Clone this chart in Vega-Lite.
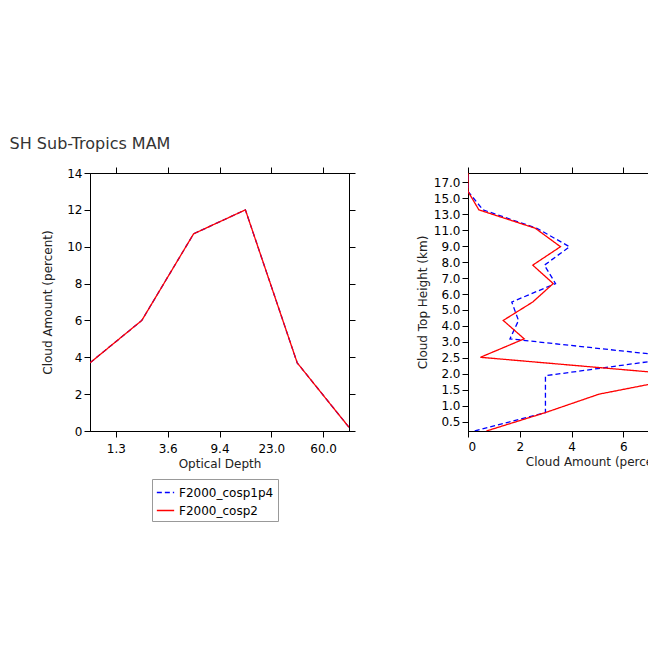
{
"$schema":"https://vega.github.io/schema/vega-lite/v6.json",
"padding":{"left":9,"top":136,"right":5,"bottom":5},
"background":"white",
"title":{"text":"SH Sub-Tropics MAM","font":"DejaVu Sans","fontSize":16,"fontWeight":"normal","color":"#333","anchor":"middle","offset":14,"frame":"group"},
"config":{"view":{"stroke":"black","strokeWidth":1},
 "axis":{"labelFont":"DejaVu Sans","titleFont":"DejaVu Sans","labelFontSize":12,"titleFontSize":12,"titleFontWeight":"normal","domainColor":"black","tickColor":"black","labelColor":"black","titleColor":"#222","grid":false,"tickSize":6},
 "legend":{"orient":"none","legendX":62,"legendY":306,"strokeColor":"#999","padding":4,"labelFont":"DejaVu Sans","labelFontSize":12,"symbolType":"stroke","symbolSize":300,"titleFontSize":0,"rowPadding":2}},
"spacing":59,
"datasets":{
"tau":[
{"c":"F2000_cosp1p4","x":0,"y":3.7},{"c":"F2000_cosp1p4","x":1,"y":6.0},{"c":"F2000_cosp1p4","x":2,"y":10.7},{"c":"F2000_cosp1p4","x":3,"y":12.0},{"c":"F2000_cosp1p4","x":4,"y":3.7},{"c":"F2000_cosp1p4","x":5,"y":0.2},
{"c":"F2000_cosp2","x":0,"y":3.7},{"c":"F2000_cosp2","x":1,"y":6.0},{"c":"F2000_cosp2","x":2,"y":10.7},{"c":"F2000_cosp2","x":3,"y":12.0},{"c":"F2000_cosp2","x":4,"y":3.7},{"c":"F2000_cosp2","x":5,"y":0.2}],
"hgt":[
{"c":"F2000_cosp1p4","i":0,"v":0.26},{"c":"F2000_cosp1p4","i":1,"v":2.99},{"c":"F2000_cosp1p4","i":2,"v":2.99},{"c":"F2000_cosp1p4","i":3,"v":2.99},{"c":"F2000_cosp1p4","i":4,"v":8.22},{"c":"F2000_cosp1p4","i":5,"v":1.62},{"c":"F2000_cosp1p4","i":6,"v":1.95},{"c":"F2000_cosp1p4","i":7,"v":1.69},{"c":"F2000_cosp1p4","i":8,"v":3.38},{"c":"F2000_cosp1p4","i":9,"v":2.95},{"c":"F2000_cosp1p4","i":10,"v":3.92},{"c":"F2000_cosp1p4","i":11,"v":2.66},{"c":"F2000_cosp1p4","i":12,"v":0.58},{"c":"F2000_cosp1p4","i":13,"v":0.0},{"c":"F2000_cosp1p4","i":14,"v":0.0},
{"c":"F2000_cosp2","i":0,"v":0.71},{"c":"F2000_cosp2","i":1,"v":2.99},{"c":"F2000_cosp2","i":2,"v":5.06},{"c":"F2000_cosp2","i":3,"v":8.7},{"c":"F2000_cosp2","i":4,"v":0.48},{"c":"F2000_cosp2","i":5,"v":2.17},{"c":"F2000_cosp2","i":6,"v":1.36},{"c":"F2000_cosp2","i":7,"v":2.5},{"c":"F2000_cosp2","i":8,"v":3.29},{"c":"F2000_cosp2","i":9,"v":2.5},{"c":"F2000_cosp2","i":10,"v":3.57},{"c":"F2000_cosp2","i":11,"v":2.6},{"c":"F2000_cosp2","i":12,"v":0.42},{"c":"F2000_cosp2","i":13,"v":0.0},{"c":"F2000_cosp2","i":14,"v":0.0}]},
"hconcat":[
{"width":259,"height":258,"data":{"name":"tau"},
 "layer":[
 {"mark":{"type":"line","strokeWidth":1.3,"clip":true},
  "encoding":{
   "x":{"field":"x","type":"quantitative","scale":{"domain":[0,5],"nice":false,"zero":false},"axis":{"title":"Optical Depth","values":[0.5,1.5,2.5,3.5,4.5],"labelExpr":"['1.3','3.6','9.4','23.0','60.0'][round(datum.value-0.5)]","labelPadding":6}},
   "y":{"field":"y","type":"quantitative","scale":{"domain":[0,14],"nice":false},"axis":{"title":"Cloud Amount (percent)","values":[0,2,4,6,8,10,12,14],"format":"d","titlePadding":12}},
   "color":{"field":"c","type":"nominal","scale":{"domain":["F2000_cosp1p4","F2000_cosp2"],"range":["blue","red"]},"legend":{"title":null}},
   "strokeDash":{"field":"c","type":"nominal","scale":{"domain":["F2000_cosp1p4","F2000_cosp2"],"range":[[5,3],[1,0]]},"legend":{"title":null}}}},
 {"mark":{"type":"rule","opacity":0},"encoding":{
   "x":{"field":"x","type":"quantitative","axis":{"orient":"top","title":null,"labels":false,"values":[0.5,1.5,2.5,3.5,4.5]}},
   "y":{"field":"y","type":"quantitative","axis":{"orient":"right","title":null,"labels":false,"values":[0,2,4,6,8,10,12,14]}}}}
 ],
 "resolve":{"axis":{"x":"independent","y":"independent"}}},
{"width":259,"height":258,"data":{"name":"hgt"},
 "layer":[
 {"mark":{"type":"line","strokeWidth":1.3,"clip":true},
  "encoding":{
   "x":{"field":"v","type":"quantitative","scale":{"domain":[0,10],"nice":false},"axis":{"title":"Cloud Amount (percent)","values":[0,2,4,6,8,10],"labelPadding":4}},
   "y":{"field":"i","type":"quantitative","scale":{"domain":[0,14],"nice":false},"axis":{"title":"Cloud Top Height (km)","titlePadding":4,"values":[0.49,1.358,2.226,3.094,3.962,4.83,5.698,6.566,7.434,8.302,9.17,10.038,10.906,11.774,12.642,13.51],"labelExpr":"['0.5','1.0','1.5','2.0','2.5','3.0','4.0','5.0','6.0','7.0','8.0','9.0','11.0','13.0','15.0','17.0'][round((datum.value-0.49)/0.868)]"}},
   "order":{"field":"i","type":"quantitative"},
   "color":{"field":"c","type":"nominal","scale":{"domain":["F2000_cosp1p4","F2000_cosp2"],"range":["blue","red"]},"legend":{"title":null}},
   "strokeDash":{"field":"c","type":"nominal","scale":{"domain":["F2000_cosp1p4","F2000_cosp2"],"range":[[5,3],[1,0]]},"legend":{"title":null}}}},
 {"mark":{"type":"rule","opacity":0},"encoding":{
   "x":{"field":"v","type":"quantitative","axis":{"orient":"top","title":null,"labels":false,"values":[0,2,4,6,8,10]}},
   "y":{"field":"i","type":"quantitative","axis":{"orient":"right","title":null,"labels":false,"values":[0.49,1.358,2.226,3.094,3.962,4.83,5.698,6.566,7.434,8.302,9.17,10.038,10.906,11.774,12.642,13.51]}}}}
 ],
 "resolve":{"axis":{"x":"independent","y":"independent"}}}
]
}
